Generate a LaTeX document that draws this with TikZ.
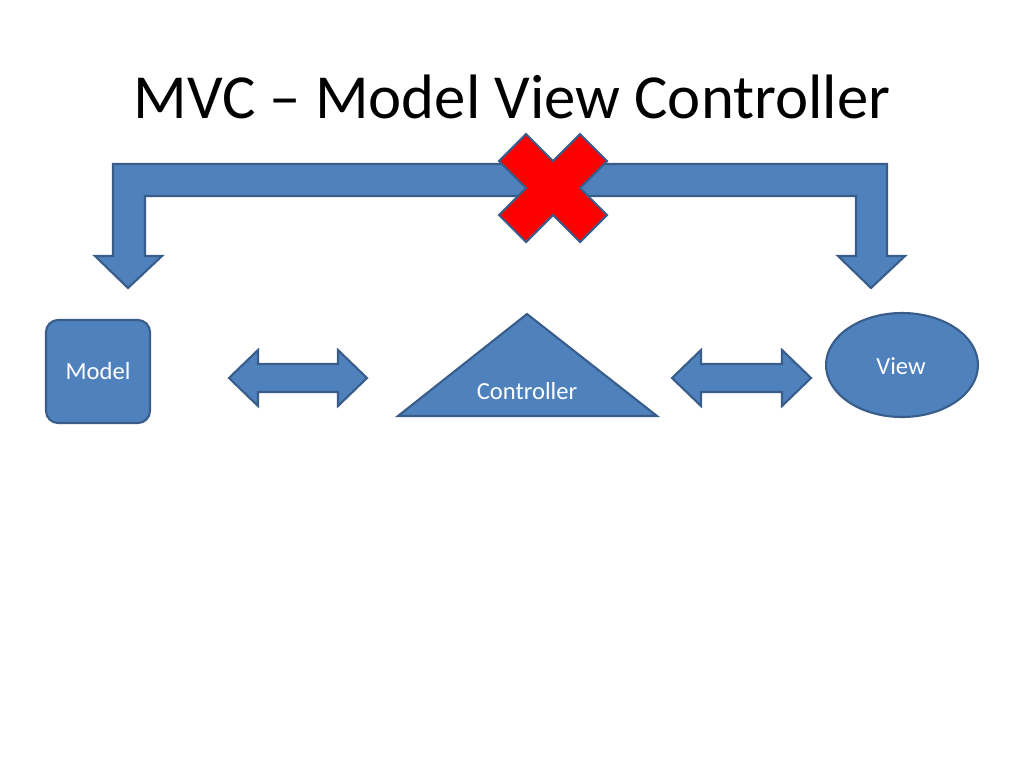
\documentclass[tikz,border=0pt]{standalone}
\usepackage{fontspec}
\setmainfont{Carlito}
\usepackage{tikz}
\usetikzlibrary{shapes}
\definecolor{officeblue}{RGB}{79,129,189}
\definecolor{officeline}{RGB}{56,93,138}
\tikzstyle{blueshape}=[draw=officeline,fill=officeblue,line width=1.2pt,line join=miter]
\tikzstyle{redcross}=[draw=officeline,fill=red,line width=1.2pt]
\tikzstyle{lbl}=[text=white,font=\fontsize{14}{16}\selectfont,inner sep=0pt]

\begin{document}
\begin{tikzpicture}[x=0.02cm,y=-0.02cm]
\useasboundingbox[fill=white] (0,0) rectangle (1024,768);
\node (title) at (512,97) {\fontsize{35.7}{42}\selectfont MVC -- Model View Controller};
% bent arrow over the top
\draw[blueshape] (128,288) -- (95,256) -- (113,256) -- (113,164) -- (887,164) -- (887,256)
  -- (905,256) -- (871,288) -- (838,256) -- (856,256) -- (856,196) -- (145,196)
  -- (145,256) -- (162,256) -- cycle;
\draw[redcross,shift={(553,188)}] (-27,-54) -- (0,-27) -- (27,-54) -- (54,-27) -- (27,0)
  -- (54,27) -- (27,54) -- (0,27) -- (-27,54) -- (-54,27) -- (-27,0) -- (-54,-27) -- cycle;
% the three parts
\node[blueshape,rectangle,rounded corners=0.24cm,minimum width=2.08cm,minimum height=2.06cm] (model) at (98,371.5) {};
\node[lbl] (modeltxt) at (model.center) {Model};
\draw[blueshape] (398,416) -- (527,314) -- (657,416) -- cycle;
\node[lbl] (controller) at (527,391) {Controller};
\node[blueshape,ellipse,minimum width=3.04cm,minimum height=2.08cm] (view) at (902,365) {};
\node[lbl] (viewtxt) at (901,366) {View};
% double arrows
\draw[blueshape] (229,378) -- (258,350) -- (258,364) -- (338,364) -- (338,350) -- (367,378)
  -- (338,406) -- (338,392) -- (258,392) -- (258,406) -- cycle;
\draw[blueshape] (672,378) -- (701,350) -- (701,364) -- (782,364) -- (782,350) -- (811,378)
  -- (782,406) -- (782,392) -- (701,392) -- (701,406) -- cycle;
\end{tikzpicture}
\end{document}
